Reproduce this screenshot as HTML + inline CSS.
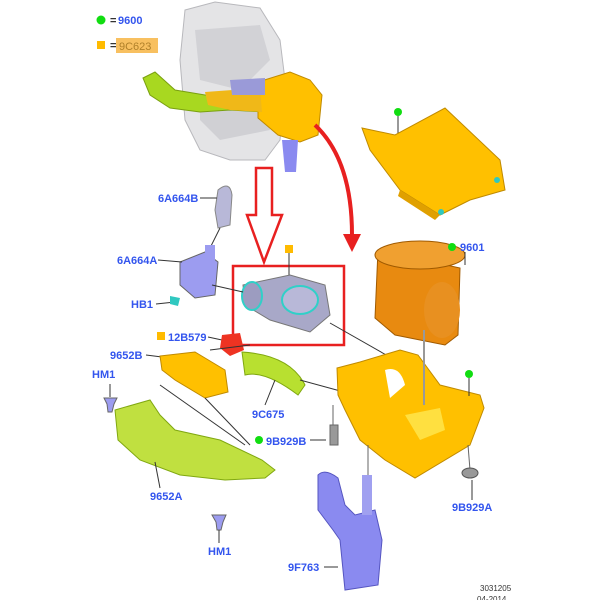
<!DOCTYPE html>
<html><head><style>
html,body{margin:0;padding:0;background:#fff;width:600px;height:600px;overflow:hidden}
svg{display:block}
text{font-family:"Liberation Sans",sans-serif;font-weight:bold;font-size:11px;fill:#3355ee}
</style></head><body>
<svg width="600" height="600" viewBox="0 0 600 600">
<!-- legend -->
<circle cx="101" cy="20" r="4.5" fill="#11dd11"/>
<text x="110" y="24" style="fill:#333">=</text><text x="118" y="24">9600</text>
<rect x="97" y="41" width="8" height="8" fill="#ffbb00"/>
<text x="110" y="49" style="fill:#333">=</text>
<rect x="116" y="38" width="42" height="15" fill="#f8c060"/>
<text x="119" y="50" style="fill:#b0802a;font-weight:normal">9C623</text>
<!-- engine -->
<path d="M185 10 L215 2 L260 8 L280 40 L285 80 L280 140 L265 160 L230 160 L200 150 L185 120 L180 60 Z" fill="#e4e4e6" stroke="#b8b8bc"/>
<path d="M195 30 L260 25 L270 60 L240 90 L200 80 Z" fill="#d2d2d6"/>
<path d="M200 95 L260 95 L270 130 L220 140 L200 120 Z" fill="#d0d0d4"/>
<!-- green duct top -->
<path d="M143 78 L155 72 L175 90 L205 95 L230 100 L262 100 L264 112 L230 110 L200 112 L170 108 L150 95 Z" fill="#a8d820" stroke="#7aa010"/>
<!-- yellow box top -->
<path d="M258 82 L290 72 L310 80 L322 95 L318 135 L300 142 L278 135 L258 118 Z" fill="#ffc000" stroke="#c08a00"/>
<path d="M205 92 L260 88 L262 112 L230 110 L208 105 Z" fill="#f0b818"/>
<path d="M282 140 L298 140 L296 172 L285 172 Z" fill="#8a8af0"/>
<path d="M230 80 L265 78 L265 95 L232 95 Z" fill="#9a9ad8"/>
<!-- red arrows -->
<path d="M256 168 L272 168 L272 215 L282 215 L264 262 L247 215 L256 215 Z" fill="none" stroke="#e82020" stroke-width="2.5"/>
<path d="M315 125 Q352 160 352 235" fill="none" stroke="#e82020" stroke-width="4"/>
<polygon points="343,234 361,234 352,252" fill="#e82020"/>
<!-- red box -->
<rect x="233" y="266" width="111" height="79" fill="none" stroke="#e82020" stroke-width="2.5"/>
<rect x="285" y="245" width="8" height="8" fill="#ffbb00"/>
<line x1="289" y1="253" x2="289" y2="276" stroke="#333"/>
<path d="M243 285 L290 275 L325 285 L330 315 L310 332 L270 320 L245 305 Z" fill="#a8a8c8" stroke="#777"/>
<ellipse cx="252" cy="296" rx="10" ry="14" fill="#9c9cc0" stroke="#30d0c8" stroke-width="2"/>
<ellipse cx="300" cy="300" rx="18" ry="14" fill="#b8b8d8" stroke="#30d0c8" stroke-width="2"/>
<!-- 6A664B -->
<path d="M218 190 Q230 180 232 195 L230 225 L218 228 L215 210 Z" fill="#b8b8d8" stroke="#888"/>
<text x="158" y="202">6A664B</text><line x1="200" y1="198" x2="217" y2="198" stroke="#333"/>
<line x1="220" y1="228" x2="210" y2="248" stroke="#333"/>
<!-- 6A664A -->
<path d="M180 262 L205 252 L218 262 L215 295 L195 298 L180 285 Z" fill="#9c9cf0" stroke="#666"/>
<path d="M205 245 L215 245 L215 265 L205 265 Z" fill="#9c9cf0"/>
<text x="117" y="264">6A664A</text><line x1="158" y1="260" x2="182" y2="262" stroke="#333"/>
<line x1="212" y1="285" x2="243" y2="292" stroke="#333"/>
<text x="131" y="308">HB1</text><line x1="156" y1="304" x2="175" y2="302" stroke="#333"/>
<path d="M170 296 L180 298 L178 306 L170 304 Z" fill="#30c8c0"/>
<!-- 12B579 -->
<rect x="157" y="332" width="8" height="8" fill="#ffbb00"/>
<text x="168" y="341">12B579</text><line x1="208" y1="337" x2="222" y2="340" stroke="#333"/>
<path d="M222 335 L240 333 L244 350 L230 356 L220 348 Z" fill="#ee3322"/>
<!-- 9652B -->
<text x="110" y="359">9652B</text><line x1="146" y1="355" x2="162" y2="357" stroke="#333"/>
<path d="M160 356 L195 352 L225 370 L228 392 L205 398 L175 380 L162 370 Z" fill="#ffc000" stroke="#c08a00"/>
<path d="M242 352 Q290 355 305 385 L298 395 Q265 370 245 375 Z" fill="#b8e030" stroke="#80a810"/>
<line x1="210" y1="350" x2="250" y2="345" stroke="#333"/>
<text x="252" y="418">9C675</text><line x1="265" y1="405" x2="275" y2="380" stroke="#333"/>
<!-- HM1 top -->
<text x="92" y="378">HM1</text><line x1="110" y1="384" x2="110" y2="397" stroke="#333"/>
<path d="M104 398 L117 398 L114 404 L112 412 L108 412 L107 404 Z" fill="#9c9cf0" stroke="#666"/>
<!-- 9652A -->
<path d="M115 410 L150 400 L160 415 L175 430 L220 440 L262 460 L275 470 L265 478 L225 480 L180 475 L140 460 L118 440 Z" fill="#c0e040" stroke="#80a810"/>
<text x="150" y="500">9652A</text><line x1="160" y1="488" x2="155" y2="462" stroke="#333"/>
<line x1="160" y1="385" x2="245" y2="445" stroke="#333"/><line x1="205" y1="398" x2="250" y2="445" stroke="#333"/>
<path d="M212 515 L226 515 L223 522 L221 530 L217 530 L216 522 Z" fill="#9c9cf0" stroke="#666"/>
<text x="208" y="555">HM1</text><line x1="219" y1="530" x2="219" y2="543" stroke="#333"/>
<!-- 9B929B -->
<circle cx="259" cy="440" r="4" fill="#11dd11"/>
<text x="266" y="445">9B929B</text><line x1="310" y1="440" x2="326" y2="440" stroke="#333"/>
<rect x="330" y="425" width="8" height="20" fill="#999" stroke="#666"/>
<line x1="333" y1="405" x2="333" y2="425" stroke="#666"/>
<!-- airbox top -->
<circle cx="398" cy="112" r="4" fill="#11dd11"/><line x1="398" y1="116" x2="398" y2="135" stroke="#333"/>
<path d="M362 128 L395 135 L445 108 L500 160 L505 190 L470 200 L440 215 L400 190 L370 150 Z" fill="#ffc000" stroke="#c08a00"/>
<path d="M400 190 L440 215 L435 220 L398 196 Z" fill="#e0a000"/>
<circle cx="441" cy="212" r="3" fill="#30c8c0"/><circle cx="497" cy="180" r="3" fill="#30c8c0"/>
<!-- filter -->
<path d="M378 250 L460 268 L458 335 L445 345 L395 335 L375 318 Z" fill="#e88a10" stroke="#a05a00"/>
<ellipse cx="420" cy="255" rx="45" ry="14" fill="#f0a030" stroke="#a05a00"/>
<ellipse cx="442" cy="310" rx="18" ry="28" fill="#e89020"/>
<circle cx="452" cy="247" r="4" fill="#11dd11"/><text x="460" y="251">9601</text>
<line x1="465" y1="252" x2="465" y2="265" stroke="#333"/>
<!-- airbox bottom -->
<line x1="330" y1="323" x2="395" y2="360" stroke="#333"/>
<line x1="300" y1="380" x2="355" y2="395" stroke="#333"/>
<path d="M337 368 L360 362 L400 350 L418 355 L440 385 L480 395 L484 408 L470 445 L415 478 L385 460 L360 440 L345 410 L338 395 Z" fill="#ffc000" stroke="#c08a00"/>
<path d="M385 370 Q400 365 405 385 L390 398 Z" fill="#fff"/>
<path d="M405 415 L440 408 L445 430 L420 440 Z" fill="#ffe040"/>
<line x1="424" y1="330" x2="424" y2="405" stroke="#999" stroke-width="2"/>
<circle cx="469" cy="374" r="4" fill="#11dd11"/><line x1="469" y1="378" x2="469" y2="396" stroke="#333"/>
<line x1="468" y1="445" x2="470" y2="470" stroke="#666"/>
<ellipse cx="470" cy="473" rx="8" ry="5" fill="#999" stroke="#555"/>
<text x="452" y="511">9B929A</text><line x1="472" y1="480" x2="472" y2="500" stroke="#333"/>
<!-- 9F763 -->
<line x1="368" y1="445" x2="368" y2="475" stroke="#666"/>
<path d="M318 475 Q325 468 338 478 L345 505 L355 515 L375 510 L382 540 L378 585 L345 590 L340 540 L333 530 L318 510 Z" fill="#8a8af0" stroke="#5555c0"/>
<rect x="362" y="475" width="10" height="40" fill="#a0a0f0"/>
<text x="288" y="571">9F763</text><line x1="324" y1="567" x2="338" y2="567" stroke="#333"/>
<text x="480" y="591" style="fill:#333;font-weight:normal;font-size:8px">3031205</text>
<text x="477" y="602" style="fill:#333;font-weight:normal;font-size:8px">04-2014</text>
</svg>
</body></html>
